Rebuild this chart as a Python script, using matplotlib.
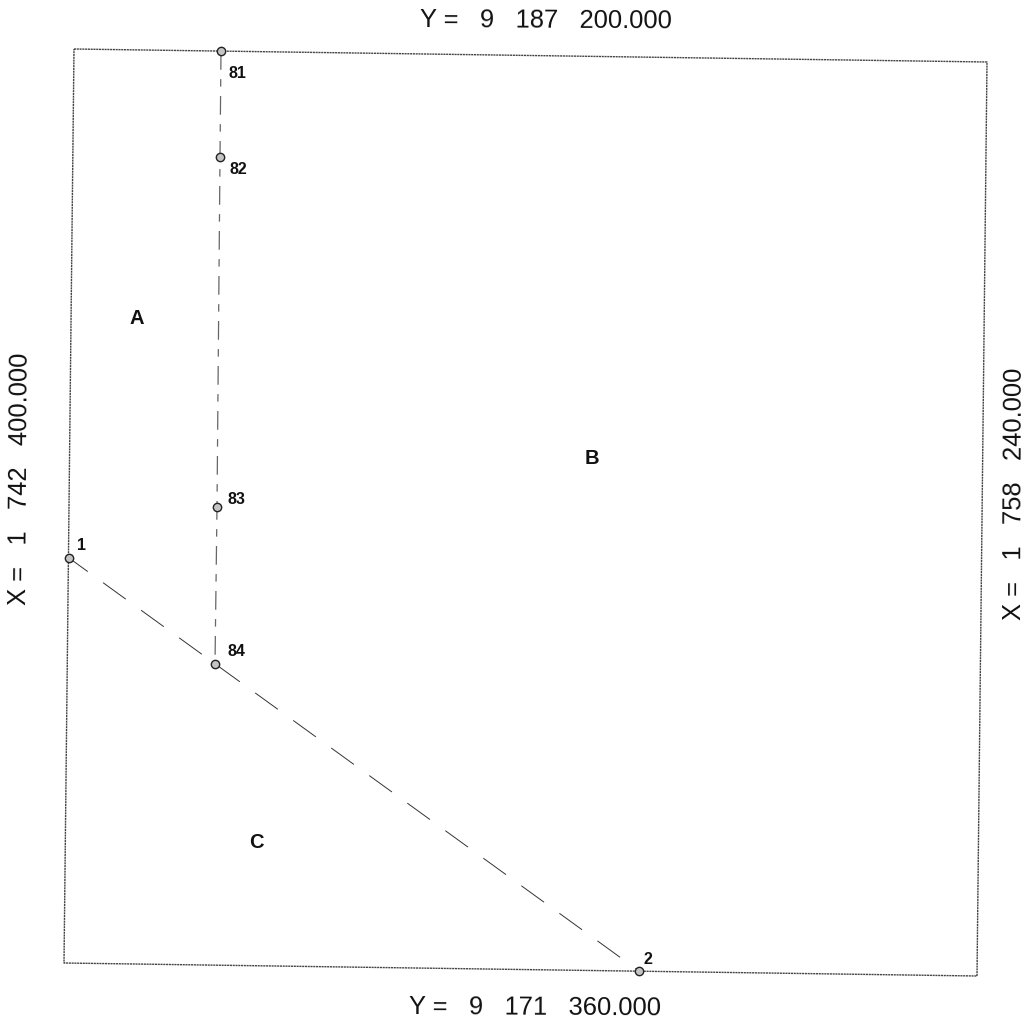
import matplotlib
matplotlib.use("Agg")
import matplotlib.pyplot as plt

plt.rcParams['font.family'] = ['Liberation Sans', 'DejaVu Sans']

frame_x = [74, 987, 977, 64, 74]
frame_y = [49, 62, 976, 963, 49]
boundary_x = [69, 639]
boundary_y = [558, 971]
route_x = [221, 220, 217, 215]
route_y = [51, 157, 507, 664]
point_names = ['81', '82', '83', '84', '1', '2']
point_x = [221, 220, 217, 215, 69, 639]
point_y = [51, 157, 507, 664, 558, 971]
name_x = [237, 238, 236, 236, 82, 648]
name_y = [74, 170, 499, 652, 545, 959]
zone_names = ['A', 'B', 'C']
zone_x = [137, 592, 256]
zone_y = [319, 458, 842]

fig = plt.figure(figsize=(10.26, 10.24), dpi=100)
ax = fig.add_axes([0, 0, 1, 1])
ax.set_xlim(0, 1026)
ax.set_ylim(1024, 0)
ax.axis('off')

ax.plot(frame_x, frame_y, color='#444444', lw=1.0, ls=(0, (1.5, 0.5)))
ax.plot(boundary_x, boundary_y, color='#333333', lw=0.7, ls=(5, (28.8, 19.5)))
ax.plot(route_x, route_y, color='#666666', lw=0.9, ls=(0, (15, 7.5, 6, 7.5)))
ax.plot(point_x, point_y, ls='none', marker='o', ms=6, mfc='#c4c4c4', mec='#222222', mew=1.0)

for n, x, y in zip(point_names, name_x, name_y):
    ax.text(x, y, n, fontsize=11.5, fontweight='bold', ha='center', va='center', color='#111111')
for n, x, y in zip(zone_names, zone_x, zone_y):
    ax.text(x, y, n, fontsize=14.5, fontweight='bold', ha='center', va='center', color='#111111')

style = dict(fontsize=18.4, color='#111111', rotation_mode='anchor', ha='right', va='center')
ax.text(672, 21, 'Y =   9   187   200.000', rotation=-0.3, **style)
ax.text(661, 1008, 'Y =   9   171   360.000', rotation=-0.3, **style)
ax.text(21, 353, 'X =   1   742   400.000', rotation=89.6, **style)
ax.text(1015, 368, 'X =   1   758   240.000', rotation=89.8, **style)

fig.savefig('out.png', dpi=100, facecolor='white')
